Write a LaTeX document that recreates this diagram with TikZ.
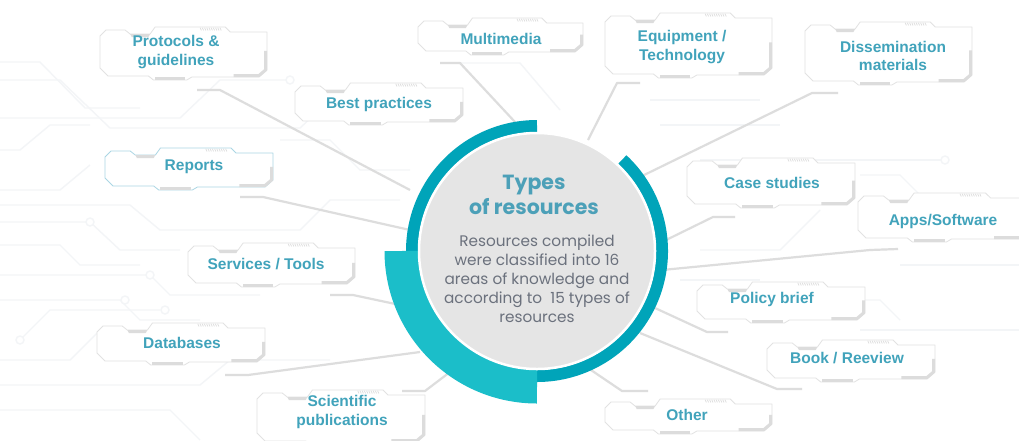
\documentclass[tikz,border=0pt]{standalone}
\usepackage{fontspec}
\setmainfont{Liberation Sans}
\newfontfamily\pop{Poppins}
\definecolor{darkteal}{RGB}{0,164,185}
\definecolor{lightteal}{RGB}{27,190,201}
\definecolor{titlecol}{RGB}{76,160,184}
\definecolor{bodycol}{RGB}{107,113,125}
\definecolor{labelcol}{RGB}{65,163,187}
\definecolor{circgray}{RGB}{229,229,229}
\definecolor{conncol}{RGB}{221,221,221}
\definecolor{boxedge}{RGB}{226,226,226}
\definecolor{blueedge}{RGB}{170,214,228}
\definecolor{accent}{RGB}{220,220,220}
\definecolor{tracecol}{RGB}{243,245,247}
\newcommand{\techbox}[5][boxedge]{%
  \begin{scope}[shift={(#2,-#3)}]
    \pgfmathsetmacro\bw{#4}\pgfmathsetmacro\bh{#5}
    \filldraw[fill=white, draw=#1, line width=0.8pt, line join=round]
      (0,-9) -- (6,-3) -- ({0.15*\bw},-3) -- ({0.18*\bw},-7) -- ({0.3*\bw},-7) -- ({0.33*\bw},0)
      -- ({0.75*\bw},0) -- ({0.78*\bw},-5) -- (\bw,-5) -- (\bw,{-\bh+10}) -- ({\bw-8},{-\bh+3})
      -- ({0.55*\bw},{-\bh+3}) -- ({0.52*\bw},-\bh) -- ({0.32*\bw},-\bh) -- ({0.29*\bw},{-\bh+4})
      -- (8,{-\bh+4}) -- (0,{-\bh+12}) -- cycle;
    \fill[accent] ({0.18*\bw},-7) -- ({0.3*\bw},-7) -- ({0.29*\bw},-10) -- ({0.19*\bw},-10) -- cycle;
    \draw[accent, line width=3pt] ({0.33*\bw},{-\bh+1.5}) -- ({0.51*\bw},{-\bh+1.5});
    \draw[accent, line width=3pt, line join=round] ({\bw-1.5},{-0.45*\bh}) -- ({\bw-1.5},{-\bh+10}) -- ({\bw-8},{-\bh+4.5}) -- ({0.8*\bw},{-\bh+4.5});
    \foreach \k in {0,...,9} \draw[accent, line width=0.7pt] ({0.6*\bw+2.2*\k},-0.8) -- ++(1.2,-2.6);
  \end{scope}}
\begin{document}
\begin{tikzpicture}[x=1pt,y=1pt,
  lbl/.style={text=labelcol, font=\bfseries\fontsize{15.5}{18.5}\selectfont, align=center, inner sep=0},
  conn/.style={draw=conncol, line width=2.2pt, line join=round},
  trace/.style={draw=tracecol, line width=1.4pt, line join=round},
  dot/.style={draw=tracecol, line width=1.4pt, fill=white}]
\useasboundingbox (0,0) rectangle (1019,-440);
\fill[white] (0,0) rectangle (1019,-440);

% faint circuit background
\draw[trace] (0,-62) -- (40,-62) -- (85,-108) -- (140,-108);
\draw[trace] (0,-80) -- (60,-80) -- (110,-128) -- (300,-128) -- (330,-100);
\draw[trace] (0,-118) -- (180,-118) -- (220,-80) -- (290,-80);
\draw[trace] (0,-150) -- (20,-150) -- (50,-125) -- (90,-125);
\draw[trace] (0,-190) -- (60,-190) -- (90,-165);
\draw[trace] (0,-205) -- (130,-205) -- (160,-230) -- (300,-230) -- (330,-200) -- (400,-200);
\draw[trace] (0,-222) -- (90,-222) -- (120,-250) -- (180,-250);
\draw[trace] (0,-245) -- (60,-245) -- (80,-265) -- (140,-265);
\draw[trace] (0,-275) -- (150,-275) -- (170,-295) -- (260,-295);
\draw[trace] (0,-300) -- (120,-300) -- (140,-320) -- (200,-320);
\draw[trace] (20,-340) -- (50,-310) -- (160,-310);
\draw[trace] (0,-360) -- (70,-360) -- (100,-330);
\draw[trace] (0,-385) -- (200,-385) -- (230,-360) -- (330,-360);
\draw[trace] (0,-410) -- (170,-410) -- (200,-440);
\draw[trace] (280,-140) -- (330,-140) -- (360,-170) -- (410,-170);
\draw[trace] (460,-63) -- (520,-63) -- (560,-110);
\draw[trace] (650,-100) -- (760,-100);
\draw[trace] (660,-125) -- (780,-125);
\draw[trace] (700,-160) -- (945,-160);
\draw[trace] (860,-175) -- (900,-175) -- (930,-205);
\draw[trace] (700,-250) -- (780,-250) -- (820,-210);
\draw[trace] (680,-280) -- (760,-280);
\draw[trace] (900,-265) -- (1019,-265);
\draw[trace] (860,-330) -- (1019,-330);
\draw[trace] (820,-300) -- (880,-300) -- (900,-320);
\draw[dot] (90,-222) circle (4);
\draw[dot] (945,-160) circle (4);
\draw[dot] (125,-300) circle (4);
\draw[dot] (150,-275) circle (4);
\draw[dot] (165,-310) circle (4);
\draw[dot] (20,-340) circle (4);
\draw[dot] (290,-80) circle (4);

% boxes
\techbox{100}{27}{167}{53}
\techbox{295}{83}{168}{42}
\techbox{418}{18}{165}{37}
\techbox{605}{13}{167}{65}
\techbox{805}{22}{167}{63}
\techbox[blueedge]{105}{148}{168}{42}
\techbox{687}{158}{168}{50}
\techbox{858}{193}{170}{49}
\techbox{188}{243}{167}{44}
\techbox{697}{282}{168}{41}
\techbox{97}{323}{168}{42}
\techbox{767}{340}{168}{42}
\techbox{257}{390}{168}{55}
\techbox{605}{399}{167}{35}

% connector coordinates
\coordinate (ctr) at (537,-251);
\coordinate (s1) at (197,-90);  \coordinate (b1) at (220,-90);  \coordinate (e1) at (410,-190);
\coordinate (s2) at (240,-197); \coordinate (b2) at (263,-197); \coordinate (e2) at (410,-230);
\coordinate (s3) at (330,-295); \coordinate (b3) at (353,-295); \coordinate (e3) at (400,-305);
\coordinate (s4) at (225,-375); \coordinate (b4) at (248,-375); \coordinate (e4) at (420,-352);
\coordinate (s5) at (402,-391); \coordinate (b5) at (425,-391); \coordinate (e5) at (450,-372);
\coordinate (s6) at (440,-63);  \coordinate (b6) at (460,-63);  \coordinate (e6) at (515,-122);
\coordinate (s7) at (640,-83);  \coordinate (b7) at (617,-83);  \coordinate (e7) at (588,-140);
\coordinate (s8) at (838,-93);  \coordinate (b8) at (812,-93);  \coordinate (e8) at (640,-177);
\coordinate (s9) at (735,-217); \coordinate (b9) at (713,-217); \coordinate (e9) at (662,-242);
\coordinate (s10) at (898,-249); \coordinate (b10) at (870,-250); \coordinate (e10) at (662,-270);
\coordinate (s11) at (728,-332); \coordinate (b11) at (707,-332); \coordinate (e11) at (655,-308);
\coordinate (s12) at (802,-389); \coordinate (b12) at (777,-389); \coordinate (e12) at (640,-333);
\coordinate (s13) at (648,-391); \coordinate (b13) at (622,-391); \coordinate (e13) at (588,-368);
\foreach \i in {1,...,13} \draw[conn] (s\i) -- (b\i) -- (e\i);

% rings and core
\draw[darkteal, line width=12pt] ([shift={(90:125)}]ctr) arc[start angle=90, end angle=180, radius=125];
\draw[darkteal, line width=12pt] ([shift={(47:125)}]ctr) arc[start angle=47, end angle=-90, radius=125];
\draw[lightteal, line width=34pt] ([shift={(180:135.5)}]ctr) arc[start angle=180, end angle=270, radius=135.5];
\node[circle, fill=circgray, draw=white, line width=2.5pt, minimum size=236pt, inner sep=0] (core) at (ctr) {};

\node[text=titlecol, font=\pop\bfseries\fontsize{20.5}{25}\selectfont, align=center, inner sep=0] (title) at (534,-195) {Types\\of resources};
\node[text=bodycol, font=\pop\fontsize{15.3}{19}\selectfont, align=center, inner sep=0] (body) at (537,-279) {Resources compiled\\were classified into 16\\areas of knowledge and\\according to~ 15 types of\\resources};

% labels
\node[lbl] (protocols) at (176,-52) {Protocols \&\\guidelines};
\node[lbl] (best) at (379,-104) {Best practices};
\node[lbl] (multimedia) at (501,-39) {Multimedia};
\node[lbl] (equipment) at (682,-47) {Equipment /\\Technology};
\node[lbl] (dissemination) at (893,-56) {Dissemination\\materials};
\node[lbl] (reports) at (194,-167) {Reports};
\node[lbl] (case) at (772,-183) {Case studies};
\node[lbl] (apps) at (943,-221) {Apps/Software};
\node[lbl] (services) at (266,-264) {Services / Tools};
\node[lbl] (policy) at (772,-299) {Policy brief};
\node[lbl] (databases) at (182,-343) {Databases};
\node[lbl] (book) at (847,-358) {Book / Reeview};
\node[lbl] (scientific) at (342,-412) {Scientific\\publications};
\node[lbl] (other) at (687,-415) {Other};
\end{tikzpicture}
\end{document}
